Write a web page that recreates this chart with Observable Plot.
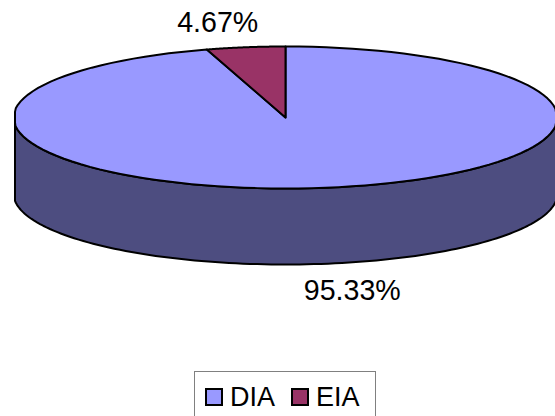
<!DOCTYPE html>
<html>
<head>
<meta charset="utf-8">
<script src="https://cdn.jsdelivr.net/npm/d3@7"></script>
<script src="https://cdn.jsdelivr.net/npm/@observablehq/plot@0.6"></script>
<style>
html,body{margin:0;padding:0;background:#fff;overflow:hidden;width:555px;height:416px;font-family:"Liberation Sans",Arial,sans-serif}
#legend{position:absolute;left:194px;top:371px;width:182px;height:60px;box-sizing:border-box;border:1px solid #808080;font-size:27px;color:#000}
#legend .sw{position:absolute;top:16px;width:14px;height:14px;border:2px solid #000}
#legend .t{position:absolute;top:10px;line-height:30px}
</style>
</head>
<body>
<div id="chart"></div>
<div id="legend"></div>
<script>
const categories = ["DIA", "EIA"];
const shares = [95.33, 4.67];
const labels = ["95.33%", "4.67%"];
const topColors = ["#9999FF", "#993366"];
const wallColor = "#4D4D80";

// Pie geometry in unit-circle space (x right, y down); the scales map it to the page.
const W = 555, H = 366, rx = 272, ry = 71, cx = 285, cy = 117, depthPx = 76;
const depth = depthPx / ry;
const sideLimit = 270.5 / rx; // the rim flattens into a short vertical run at its far left and right
const rim = (t, dy = 0) => ({x: Math.max(-sideLimit, Math.min(sideLimit, Math.sin(t))), y: -Math.cos(t) + dy});
const arc = (a, b, dy = 0) => d3.range(0, 121).map(i => rim(a + (b - a) * i / 120, dy));

const total = d3.sum(shares);
let acc = 0;
const slices = categories.map((c, i) => {
  const a = acc / total * 2 * Math.PI;
  acc += shares[i];
  const b = acc / total * 2 * Math.PI;
  return {c, i, a, b, mid: (a + b) / 2};
});
const wall = [...arc(Math.PI / 2, 3 * Math.PI / 2), ...arc(3 * Math.PI / 2, Math.PI / 2, depth)];
wall.push(wall[0]);
const slicePts = s => {
  const pts = [{x: 0, y: 0}, ...arc(s.a, s.b)];
  pts.push(pts[0]);
  return pts;
};
const poly = (pts, fill) => Plot.line(pts, {x: "x", y: "y", fill, stroke: "#000", strokeWidth: 2, strokeLinejoin: "round", curve: "linear"});

const [dia, eia] = slices;
const chart = Plot.plot({
  width: W, height: H,
  margin: 0, marginTop: 0, marginRight: 0, marginBottom: 0, marginLeft: 0,
  x: {axis: null, domain: [-cx / rx, (W - cx) / rx], range: [0, W]},
  y: {axis: null, domain: [-cy / ry, (H - cy) / ry], range: [0, H]},
  style: {fontFamily: '"Liberation Sans", Arial, sans-serif', background: "#fff", overflow: "hidden"},
  marks: [
    poly(wall, wallColor),
    poly(slicePts(dia), topColors[0]),
    poly(slicePts(eia), topColors[1]),
    Plot.text([rim(dia.mid, depth)], {x: "x", y: "y", text: () => labels[0], fontSize: 28.6, fill: "#000", dx: 27, dy: 27, textAnchor: "middle", lineAnchor: "middle"}),
    Plot.text([rim(eia.mid)], {x: "x", y: "y", text: () => labels[1], fontSize: 28.6, fill: "#000", dx: -28, dy: -24, textAnchor: "middle", lineAnchor: "middle"})
  ]
});
document.getElementById("chart").appendChild(chart);

const legend = document.getElementById("legend");
const swatchX = [10, 96], textX = [35, 121];
categories.forEach((c, i) => {
  const s = document.createElement("div");
  s.className = "sw"; s.style.left = swatchX[i] + "px"; s.style.background = topColors[i];
  const t = document.createElement("div");
  t.className = "t"; t.style.left = textX[i] + "px"; t.textContent = c;
  legend.append(s, t);
});
</script>
</body>
</html>
